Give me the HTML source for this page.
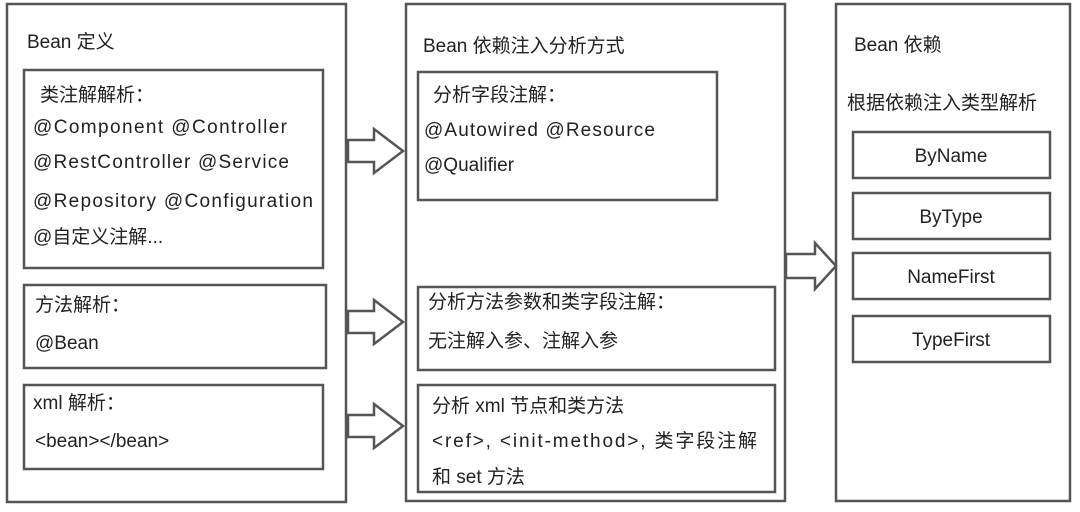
<!DOCTYPE html>
<html><head><meta charset="utf-8"><style>
html,body{margin:0;padding:0;background:#fff;}
svg text{font-family:"Liberation Sans","Noto Sans CJK SC",sans-serif;font-size:19px;fill:#222;}
</style></head><body>
<svg width="1080" height="507" viewBox="0 0 1080 507" xmlns="http://www.w3.org/2000/svg">
<g fill="#fff" stroke="#555" stroke-width="2.5">
<rect x="7" y="4" width="339" height="498"/>
<rect x="24" y="70" width="299" height="198"/>
<rect x="24" y="285" width="302" height="83"/>
<rect x="24" y="385" width="299" height="84"/>
<rect x="406" y="4" width="379" height="497"/>
<rect x="418" y="72" width="299" height="128"/>
<rect x="418" y="287" width="357" height="83"/>
<rect x="418" y="385" width="357" height="107"/>
<rect x="836" y="4" width="234" height="497"/>
<rect x="853" y="132" width="197" height="46"/>
<rect x="853" y="193" width="197" height="46"/>
<rect x="853" y="253" width="197" height="46"/>
<rect x="853" y="316" width="197" height="46"/>
<polygon points="348,140 374,140 374,129 403,151 374,173 374,162 348,162"/>
<polygon points="348,311 374,311 374,300 403,322 374,344 374,333 348,333"/>
<polygon points="348,415 374,415 374,404 403,426 374,448 374,437 348,437"/>
<polygon points="786,254 815,254 815,243 836,266 815,289 815,278 786,278"/>
</g>
<text x="27" y="48">Bean 定义</text>
<text x="40" y="101">类注解解析：</text>
<text x="33" y="133" textLength="254">@Component @Controller</text>
<text x="33" y="168" textLength="256">@RestController @Service</text>
<text x="33" y="207" textLength="280">@Repository @Configuration</text>
<text x="33" y="243">@自定义注解...</text>
<text x="35" y="311">方法解析：</text>
<text x="35" y="349">@Bean</text>
<text x="33" y="409">xml 解析：</text>
<text x="35" y="447">&lt;bean&gt;&lt;/bean&gt;</text>
<text x="423" y="52">Bean 依赖注入分析方式</text>
<text x="433" y="101">分析字段注解：</text>
<text x="424" y="136" textLength="231">@Autowired @Resource</text>
<text x="424" y="171">@Qualifier</text>
<text x="428" y="308">分析方法参数和类字段注解：</text>
<text x="428" y="347">无注解入参、注解入参</text>
<text x="432" y="412">分析 xml 节点和类方法</text>
<text x="432" y="447" textLength="325">&lt;ref&gt;, &lt;init-method&gt;, 类字段注解</text>
<text x="432" y="483">和 set 方法</text>
<text x="854" y="51">Bean 依赖</text>
<text x="847" y="109">根据依赖注入类型解析</text>
<text x="951" y="162" text-anchor="middle">ByName</text>
<text x="951" y="223" text-anchor="middle">ByType</text>
<text x="951" y="283" text-anchor="middle">NameFirst</text>
<text x="951" y="346" text-anchor="middle">TypeFirst</text>
</svg>
</body></html>
